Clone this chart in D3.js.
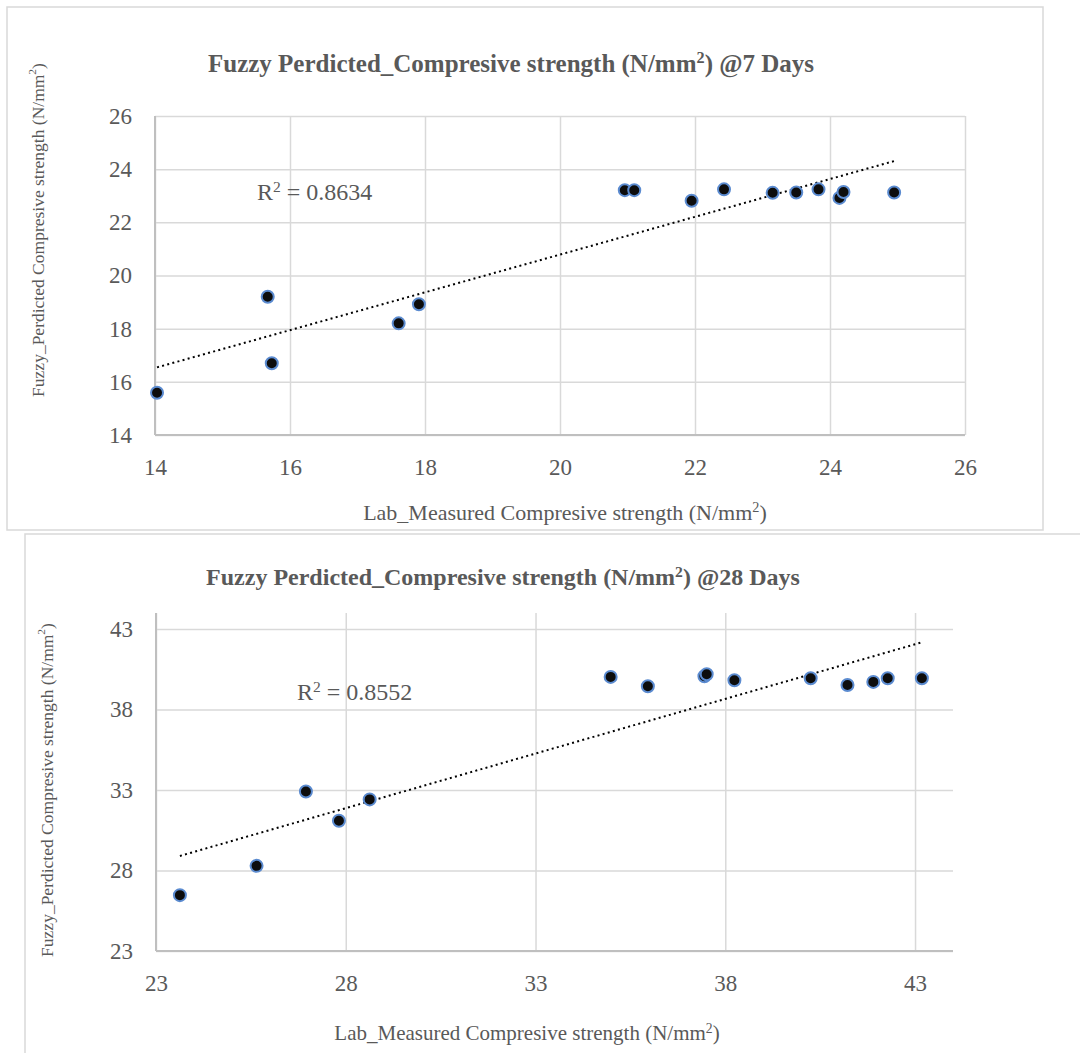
<!DOCTYPE html>
<html>
<head>
<meta charset="utf-8">
<script src="https://cdn.jsdelivr.net/npm/d3@7"></script>
<style>
  html, body { margin: 0; padding: 0; background: #fff; }
  svg { display: block; }
  text { font-family: "Liberation Serif", "Times New Roman", serif; fill: #595959; }
</style>
</head>
<body>
<script>
// 7 days: lab measured vs fuzzy predicted
const labMeasured7 = [14.03, 15.67, 15.73, 17.61, 17.91, 20.96, 21.10, 21.95, 22.43, 23.15, 23.50, 23.83, 24.14, 24.20, 24.95];
const fuzzyPredicted7 = [15.59, 19.20, 16.70, 18.20, 18.92, 23.21, 23.21, 22.81, 23.24, 23.11, 23.12, 23.24, 22.92, 23.14, 23.12];
const ticks7 = [14, 16, 18, 20, 22, 24, 26];

// 28 days
const labMeasured28 = [23.63, 25.65, 26.95, 27.82, 28.63, 34.98, 35.96, 37.45, 37.51, 38.24, 40.25, 41.22, 41.90, 42.28, 43.18];
const fuzzyPredicted28 = [26.47, 28.29, 32.91, 31.09, 32.42, 40.03, 39.45, 40.07, 40.19, 39.82, 39.95, 39.53, 39.72, 39.95, 39.95];
const ticks28 = [23, 28, 33, 38, 43];

const r2Labels = ['0.8634', '0.8552'];

const W = 1080, H = 1053;
const svg = d3.select('body').append('svg')
    .attr('width', W)
    .attr('height', H);

// chart frames
svg.append('rect')
    .attr('x', 7).attr('y', 7).attr('width', 1036).attr('height', 523)
    .attr('fill', 'none').attr('stroke', '#d9d9d9').attr('stroke-width', 1.5);
svg.append('rect')
    .attr('x', 25).attr('y', 534).attr('width', 1100).attr('height', 600)
    .attr('fill', 'none').attr('stroke', '#d9d9d9').attr('stroke-width', 1.5);

function supText(sel, before, sup, after) {
    sel.append('tspan').text(before);
    sel.append('tspan').attr('baseline-shift', 'super').attr('font-size', '65%').text(sup);
    sel.append('tspan').text(after);
}

function drawChart(c) {
    const g = svg.append('g');
    const x = d3.scaleLinear().domain(c.domain).range([c.left, c.right]);
    const y = d3.scaleLinear().domain(c.domain).range([c.bottom, c.top]);

    // vertical gridlines + x tick labels
    const xa = g.append('g')
        .attr('transform', `translate(0,${c.bottom})`)
        .call(d3.axisBottom(x).tickValues(c.ticks).tickSize(-(c.bottom - c.top)).tickPadding(24).tickFormat(d3.format('d')));
    // horizontal gridlines + y tick labels
    const ya = g.append('g')
        .attr('transform', `translate(${c.left},0)`)
        .call(d3.axisLeft(y).tickValues(c.ticks).tickSize(-(c.right - c.left)).tickPadding(23).tickFormat(d3.format('d')));

    [xa, ya].forEach(a => {
        a.select('.domain').remove();
        a.selectAll('line').attr('stroke', '#d9d9d9').attr('stroke-width', 1.5);
        a.selectAll('text')
            .attr('fill', '#595959')
            .style('font-family', '"Liberation Serif", serif')
            .style('font-size', '23px');
    });

    // axis lines
    g.append('line')
        .attr('x1', c.left).attr('x2', c.right).attr('y1', c.bottom).attr('y2', c.bottom)
        .attr('stroke', '#bfbfbf').attr('stroke-width', 2);
    g.append('line')
        .attr('x1', c.left).attr('x2', c.left).attr('y1', c.top).attr('y2', c.bottom)
        .attr('stroke', '#bfbfbf').attr('stroke-width', 2);

    // linear trend line (least squares)
    const mx = d3.mean(c.xs), my = d3.mean(c.ys);
    const sxy = d3.sum(c.xs, (v, i) => (v - mx) * (c.ys[i] - my));
    const sxx = d3.sum(c.xs, v => (v - mx) * (v - mx));
    const slope = sxy / sxx, icpt = my - slope * mx;
    const ext = d3.extent(c.xs);
    g.append('path')
        .datum(ext.map(v => [v, icpt + slope * v]))
        .attr('d', d3.line().x(d => x(d[0])).y(d => y(d[1])))
        .attr('fill', 'none')
        .attr('stroke', '#000')
        .attr('stroke-width', 2)
        .attr('stroke-dasharray', '2,3.3');

    // points
    g.append('g').selectAll('circle')
        .data(c.xs.map((v, i) => [v, c.ys[i]]))
        .enter().append('circle')
        .attr('cx', d => x(d[0]))
        .attr('cy', d => y(d[1]))
        .attr('r', 6)
        .attr('fill', '#0d0d0d')
        .attr('stroke', '#5b8bd0')
        .attr('stroke-width', 2);

    // R² label
    const r2 = g.append('text')
        .attr('x', c.r2x).attr('y', c.r2y)
        .style('font-size', '24px');
    supText(r2, 'R', '2', ' = ' + c.r2);

    // title
    const t = g.append('text')
        .attr('x', c.titleX).attr('y', c.titleY)
        .attr('text-anchor', 'middle')
        .attr('font-weight', 'bold')
        .style('font-size', c.titleSize + 'px');
    supText(t, 'Fuzzy Perdicted_Compresive strength (N/mm', '2', ') ' + c.days);

    // x axis title
    const xl = g.append('text')
        .attr('x', c.xlX).attr('y', c.xlY)
        .attr('text-anchor', 'middle')
        .style('font-size', c.xlSize + 'px');
    supText(xl, 'Lab_Measured Compresive strength (N/mm', '2', ')');

    // y axis title
    const yl = g.append('text')
        .attr('transform', `translate(${c.ylX},${c.ylY}) rotate(-90)`)
        .attr('text-anchor', 'middle')
        .attr('dominant-baseline', 'central')
        .style('font-size', '17.5px');
    supText(yl, 'Fuzzy_Perdicted Compresive strength (N/mm', '2', ')');
}

drawChart({
    xs: labMeasured7, ys: fuzzyPredicted7, ticks: ticks7, domain: [14, 26],
    left: 155, right: 965, top: 116, bottom: 435,
    r2: r2Labels[0], r2x: 257, r2y: 200,
    days: '@7 Days', titleX: 511, titleY: 72, titleSize: 25,
    xlX: 565, xlY: 520, xlSize: 22,
    ylX: 38, ylY: 230
});

drawChart({
    xs: labMeasured28, ys: fuzzyPredicted28, ticks: ticks28, domain: [23, 44],
    left: 156, right: 953, top: 613, bottom: 951,
    r2: r2Labels[1], r2x: 297, r2y: 700,
    days: '@28 Days', titleX: 503, titleY: 585, titleSize: 24,
    xlX: 527, xlY: 1040, xlSize: 21,
    ylX: 47, ylY: 790
});
</script>
</body>
</html>
